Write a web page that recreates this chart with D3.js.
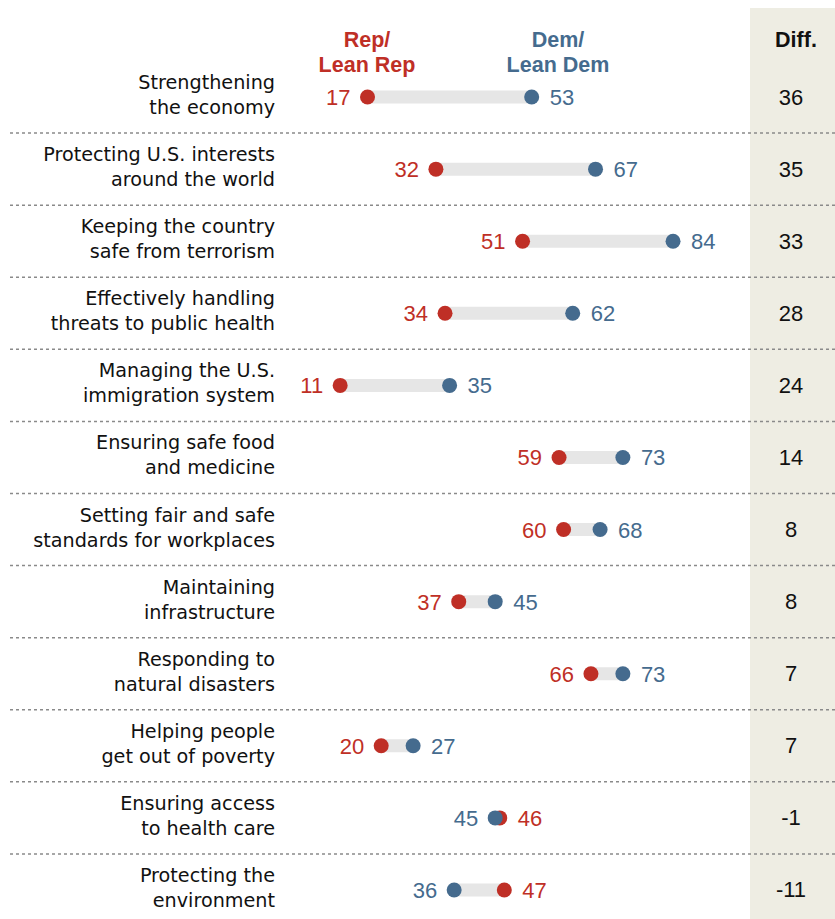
<!DOCTYPE html>
<html>
<head>
<meta charset="utf-8">
<script src="https://cdn.jsdelivr.net/npm/d3@7"></script>
<style>
  html, body { margin: 0; padding: 0; background: #fff; }
  svg { display: block; font-family: "Liberation Sans", Arial, sans-serif; }
</style>
</head>
<body>
<svg id="chart" width="835" height="919"></svg>
<script>
// Issue areas, two-line labels
const categories = [
  ["Strengthening", "the economy"],
  ["Protecting U.S. interests", "around the world"],
  ["Keeping the country", "safe from terrorism"],
  ["Effectively handling", "threats to public health"],
  ["Managing the U.S.", "immigration system"],
  ["Ensuring safe food", "and medicine"],
  ["Setting fair and safe", "standards for workplaces"],
  ["Maintaining", "infrastructure"],
  ["Responding to", "natural disasters"],
  ["Helping people", "get out of poverty"],
  ["Ensuring access", "to health care"],
  ["Protecting the", "environment"]
];
const repValues = [17, 32, 51, 34, 11, 59, 60, 37, 66, 20, 46, 47];
const demValues = [53, 67, 84, 62, 35, 73, 68, 45, 73, 27, 45, 36];
const diffValues = [36, 35, 33, 28, 24, 14, 8, 8, 7, 7, -1, -11];

const RED = "#bf2f26";
const BLUE = "#456b8e";

const svg = d3.select("#chart");

const x = d3.scaleLinear().domain([0, 100]).range([290, 746]);
const y = d3.scaleBand()
  .domain(d3.range(categories.length))
  .range([61, 926])
  .paddingInner(0);
const cy = i => y(i) + y.bandwidth() / 2;

// Diff column background
svg.append("rect")
  .attr("x", 750).attr("y", 8)
  .attr("width", 85).attr("height", 911)
  .attr("fill", "#eeede3");

// Column headers
const hdr = svg.append("g").attr("font-weight", "bold").attr("font-size", 21.5).attr("text-anchor", "middle");
hdr.append("text").attr("x", 367).attr("y", 47).attr("fill", RED).text("Rep/");
hdr.append("text").attr("x", 367).attr("y", 72).attr("fill", RED).text("Lean Rep");
hdr.append("text").attr("x", 558).attr("y", 47).attr("fill", BLUE).text("Dem/");
hdr.append("text").attr("x", 558).attr("y", 72).attr("fill", BLUE).text("Lean Dem");
hdr.append("text").attr("x", 796).attr("y", 47).attr("fill", "#111").text("Diff.");

// Dotted separators between rows
svg.append("g").selectAll("line")
  .data(d3.range(1, categories.length))
  .join("line")
  .attr("x1", 10).attr("x2", 835)
  .attr("y1", i => y(i)).attr("y2", i => y(i))
  .attr("stroke", "#8a8a8a")
  .attr("stroke-width", 1.5)
  .attr("stroke-dasharray", "3,3");

const rows = svg.append("g").selectAll("g.row")
  .data(categories.map((c, i) => ({ c, i, rep: repValues[i], dem: demValues[i], diff: diffValues[i] })))
  .join("g").attr("class", "row");

// Category labels
rows.append("text")
  .attr("text-anchor", "end")
  .attr("font-family", "'DejaVu Sans', sans-serif")
  .attr("font-size", 19.2)
  .attr("fill", "#111")
  .each(function (d) {
    const t = d3.select(this);
    t.append("tspan").attr("x", 275).attr("y", cy(d.i) - 8).text(d.c[0]);
    t.append("tspan").attr("x", 275).attr("y", cy(d.i) + 17).text(d.c[1]);
  });

// Connecting bars
rows.append("line")
  .attr("x1", d => x(Math.min(d.rep, d.dem)))
  .attr("x2", d => x(Math.max(d.rep, d.dem)))
  .attr("y1", d => cy(d.i)).attr("y2", d => cy(d.i))
  .attr("stroke", "#e6e6e6")
  .attr("stroke-width", 13);

// Dots: rep first, dem on top
rows.append("circle")
  .attr("cx", d => x(d.rep)).attr("cy", d => cy(d.i))
  .attr("r", 7.5).attr("fill", RED);
rows.append("circle")
  .attr("cx", d => x(d.dem)).attr("cy", d => cy(d.i))
  .attr("r", 7.5).attr("fill", BLUE);

// Value labels: lower value on the left, higher on the right
const offL = 17, offR = 18;
rows.append("text")
  .attr("font-size", 22)
  .attr("y", d => cy(d.i) + 8)
  .attr("x", d => d.rep <= d.dem ? x(d.rep) - offL : x(d.rep) + offR)
  .attr("text-anchor", d => d.rep <= d.dem ? "end" : "start")
  .attr("fill", RED)
  .text(d => d.rep);
rows.append("text")
  .attr("font-size", 22)
  .attr("y", d => cy(d.i) + 8)
  .attr("x", d => d.dem >= d.rep ? x(d.dem) + offR : x(d.dem) - offL)
  .attr("text-anchor", d => d.dem >= d.rep ? "start" : "end")
  .attr("fill", BLUE)
  .text(d => d.dem);

// Differences
rows.append("text")
  .attr("font-size", 22)
  .attr("text-anchor", "middle")
  .attr("x", 791)
  .attr("y", d => cy(d.i) + 7.5)
  .attr("fill", "#111")
  .text(d => d.diff);
</script>
</body>
</html>
